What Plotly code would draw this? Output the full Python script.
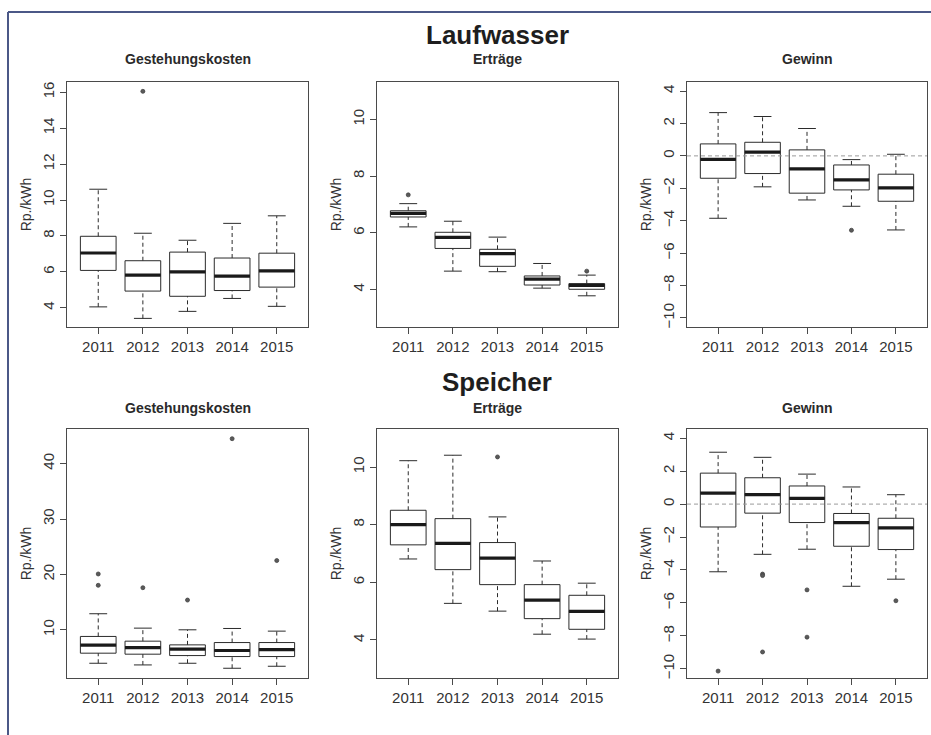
import plotly.graph_objects as go

years = [2011, 2012, 2013, 2014, 2015]

# ---- Laufwasser ----
lw_gk_low = [4.05, 3.41, 3.80, 4.52, 4.08]
lw_gk_q1 = [6.08, 4.93, 4.64, 4.96, 5.15]
lw_gk_med = [7.05, 5.82, 6.00, 5.76, 6.06]
lw_gk_q3 = [7.98, 6.62, 7.10, 6.77, 7.04]
lw_gk_high = [10.60, 8.15, 7.76, 8.70, 9.12]
lw_gk_out_x = [2012]
lw_gk_out_y = [16.05]

lw_er_low = [6.21, 4.65, 4.63, 4.05, 3.78]
lw_er_q1 = [6.56, 5.45, 4.82, 4.16, 4.01]
lw_er_med = [6.69, 5.84, 5.27, 4.37, 4.15]
lw_er_q3 = [6.78, 6.02, 5.42, 4.48, 4.21]
lw_er_high = [7.03, 6.41, 5.85, 4.92, 4.51]
lw_er_out_x = [2011, 2015]
lw_er_out_y = [7.34, 4.65]

lw_gw_low = [-3.85, -1.91, -2.72, -3.11, -4.57]
lw_gw_q1 = [-1.38, -1.09, -2.30, -2.10, -2.80]
lw_gw_med = [-0.21, 0.23, -0.80, -1.48, -1.98]
lw_gw_q3 = [0.74, 0.84, 0.37, -0.56, -1.13]
lw_gw_high = [2.67, 2.43, 1.69, -0.23, 0.10]
lw_gw_out_x = [2014]
lw_gw_out_y = [-4.59]

# ---- Speicher ----
sp_gk_low = [3.96, 3.66, 3.96, 3.06, 3.42]
sp_gk_q1 = [5.78, 5.60, 5.35, 5.17, 5.17]
sp_gk_med = [7.22, 6.80, 6.50, 6.26, 6.44]
sp_gk_q3 = [8.80, 7.95, 7.28, 7.70, 7.70]
sp_gk_high = [12.90, 10.30, 10.00, 10.24, 9.76]
sp_gk_out_x = [2011, 2011, 2012, 2013, 2014, 2015]
sp_gk_out_y = [20.08, 18.03, 17.60, 15.37, 44.50, 22.50]

sp_er_low = [6.81, 5.27, 5.00, 4.20, 4.03]
sp_er_q1 = [7.30, 6.44, 5.92, 4.74, 4.37]
sp_er_med = [8.00, 7.35, 6.84, 5.38, 4.99]
sp_er_q3 = [8.50, 8.21, 7.38, 5.92, 5.55]
sp_er_high = [10.22, 10.41, 8.27, 6.74, 5.97]
sp_er_out_x = [2013]
sp_er_out_y = [10.35]

sp_gw_low = [-4.11, -3.05, -2.74, -4.99, -4.56]
sp_gw_q1 = [-1.39, -0.55, -1.12, -2.56, -2.76]
sp_gw_med = [0.67, 0.57, 0.35, -1.12, -1.45]
sp_gw_q3 = [1.88, 1.60, 1.10, -0.57, -0.86]
sp_gw_high = [3.15, 2.84, 1.82, 1.04, 0.57]
sp_gw_out_x = [2011, 2012, 2012, 2012, 2013, 2013, 2015]
sp_gw_out_y = [-10.14, -4.25, -4.34, -8.98, -5.21, -8.08, -5.87]

row_titles = ["Laufwasser", "Speicher"]
col_titles = ["Gestehungskosten", "Erträge", "Gewinn"]
y_label = "Rp./kWh"

panels = [
    (lw_gk_low, lw_gk_q1, lw_gk_med, lw_gk_q3, lw_gk_high, lw_gk_out_x, lw_gk_out_y),
    (lw_er_low, lw_er_q1, lw_er_med, lw_er_q3, lw_er_high, lw_er_out_x, lw_er_out_y),
    (lw_gw_low, lw_gw_q1, lw_gw_med, lw_gw_q3, lw_gw_high, lw_gw_out_x, lw_gw_out_y),
    (sp_gk_low, sp_gk_q1, sp_gk_med, sp_gk_q3, sp_gk_high, sp_gk_out_x, sp_gk_out_y),
    (sp_er_low, sp_er_q1, sp_er_med, sp_er_q3, sp_er_high, sp_er_out_x, sp_er_out_y),
    (sp_gw_low, sp_gw_q1, sp_gw_med, sp_gw_q3, sp_gw_high, sp_gw_out_x, sp_gw_out_y),
]

y_ranges = [[2.93, 16.57], [2.68, 11.32], [-10.56, 4.56],
            [1.3, 46.25], [2.68, 11.32], [-10.56, 4.56]]
y_ticks = [[4, 6, 8, 10, 12, 14, 16], [4, 6, 8, 10], list(range(-10, 5, 2)),
           [10, 20, 30, 40], [4, 6, 8, 10], list(range(-10, 5, 2))]

W, H = 931, 735
col_px = [(67, 308), (377, 618), (687, 927)]
row_px = [(82, 327), (429, 678)]

FONT = "Liberation Sans, Arial, Helvetica, sans-serif"
INK = "#2b2b2b"
AX = "#4a4a4a"
BOXW = 0.8
CAPW = 0.2

fig = go.Figure()
layout = {}

for i, (lo, q1, md, q3, hi, ox, oy) in enumerate(panels):
    r, c = divmod(i, 3)
    n = i + 1
    xa = "x" if n == 1 else f"x{n}"
    ya = "y" if n == 1 else f"y{n}"

    # dashed whiskers
    wx, wy = [], []
    for yr, a, b, cc, d in zip(years, lo, q1, q3, hi):
        wx += [yr, yr, None, yr, yr, None]
        wy += [cc, d, None, a, b, None]
    fig.add_trace(go.Scatter(x=wx, y=wy, mode="lines", xaxis=xa, yaxis=ya,
                             line=dict(color=INK, width=1, dash="4px,3px"),
                             showlegend=False, hoverinfo="skip"))
    # staples
    sx, sy = [], []
    for yr, a, d in zip(years, lo, hi):
        sx += [yr - CAPW, yr + CAPW, None, yr - CAPW, yr + CAPW, None]
        sy += [a, a, None, d, d, None]
    fig.add_trace(go.Scatter(x=sx, y=sy, mode="lines", xaxis=xa, yaxis=ya,
                             line=dict(color=INK, width=1),
                             showlegend=False, hoverinfo="skip"))
    # boxes
    fig.add_trace(go.Box(x=years, q1=q1, median=md, q3=q3,
                         lowerfence=q1, upperfence=q3, width=BOXW,
                         xaxis=xa, yaxis=ya, fillcolor="white",
                         line=dict(color=INK, width=1), whiskerwidth=0,
                         boxpoints=False, showlegend=False))
    # thick medians
    mx, my = [], []
    for yr, m in zip(years, md):
        mx += [yr - BOXW / 2, yr + BOXW / 2, None]
        my += [m, m, None]
    fig.add_trace(go.Scatter(x=mx, y=my, mode="lines", xaxis=xa, yaxis=ya,
                             line=dict(color="#1a1a1a", width=3.2),
                             showlegend=False, hoverinfo="skip"))
    # outliers
    fig.add_trace(go.Scatter(x=ox, y=oy, mode="markers", xaxis=xa, yaxis=ya,
                             marker=dict(size=4, color="#5a5a5a",
                                         line=dict(color="#444444", width=0.8)),
                             showlegend=False, hoverinfo="skip"))

    x0, x1 = col_px[c]
    yt, yb = row_px[r]
    axis_common = dict(showline=True, mirror=True, linecolor=AX, linewidth=1,
                       ticks="outside", ticklen=6, tickcolor=AX, tickwidth=1,
                       showgrid=False, zeroline=False,
                       tickfont=dict(family=FONT, size=15, color="#333333"))
    layout["xaxis" if n == 1 else f"xaxis{n}"] = dict(
        domain=[x0 / W, x1 / W], anchor=ya, range=[2010.3, 2015.7],
        tickvals=years, ticktext=[str(y) for y in years], **axis_common)
    layout["yaxis" if n == 1 else f"yaxis{n}"] = dict(
        domain=[1 - yb / H, 1 - yt / H], anchor=xa, range=y_ranges[i],
        tickvals=y_ticks[i], tickangle=-90,
        title=dict(text=y_label, standoff=5,
                   font=dict(family=FONT, size=14, color="#333333")),
        **axis_common)

    if c == 2:
        fig.add_shape(type="line", xref=f"{xa} domain", yref=ya,
                      x0=0, x1=1, y0=0, y1=0,
                      line=dict(color="#9a9a9a", width=1, dash="4px,3px"))

annotations = []
for r, t in enumerate(row_titles):
    yc = [35, 382][r]
    annotations.append(dict(text=f"<b>{t}</b>", x=497.5 / W, y=1 - yc / H,
                            xref="paper", yref="paper", showarrow=False,
                            xanchor="center", yanchor="middle",
                            font=dict(family=FONT, size=26, color="#1e1e1e")))
    for c, ct in enumerate(col_titles):
        sy = [59, 408][r]
        x0, x1 = col_px[c]
        annotations.append(dict(text=f"<b>{ct}</b>", x=(x0 + x1) / 2 / W,
                                y=1 - sy / H, xref="paper", yref="paper",
                                showarrow=False, xanchor="center",
                                yanchor="middle",
                                font=dict(family=FONT, size=14, color="#2a2a2a")))

shapes = [
    dict(type="line", xref="paper", yref="paper", x0=8 / W, x1=1,
         y0=1 - 12 / H, y1=1 - 12 / H, line=dict(color="#4b5887", width=2)),
    dict(type="line", xref="paper", yref="paper", x0=8 / W, x1=8 / W,
         y0=1 - 12 / H, y1=0, line=dict(color="#4b5887", width=2)),
]

fig.update_layout(**layout)
fig.update_layout(width=W, height=H, margin=dict(l=0, r=0, t=0, b=0),
                  paper_bgcolor="white", plot_bgcolor="white",
                  annotations=annotations, showlegend=False,
                  font=dict(family=FONT))
for s in shapes:
    fig.add_shape(**s)

fig.write_html(
    "out.html",
    config={"displayModeBar": False},
    post_script="document.body.style.margin='0';document.body.style.overflow='hidden';",
)
